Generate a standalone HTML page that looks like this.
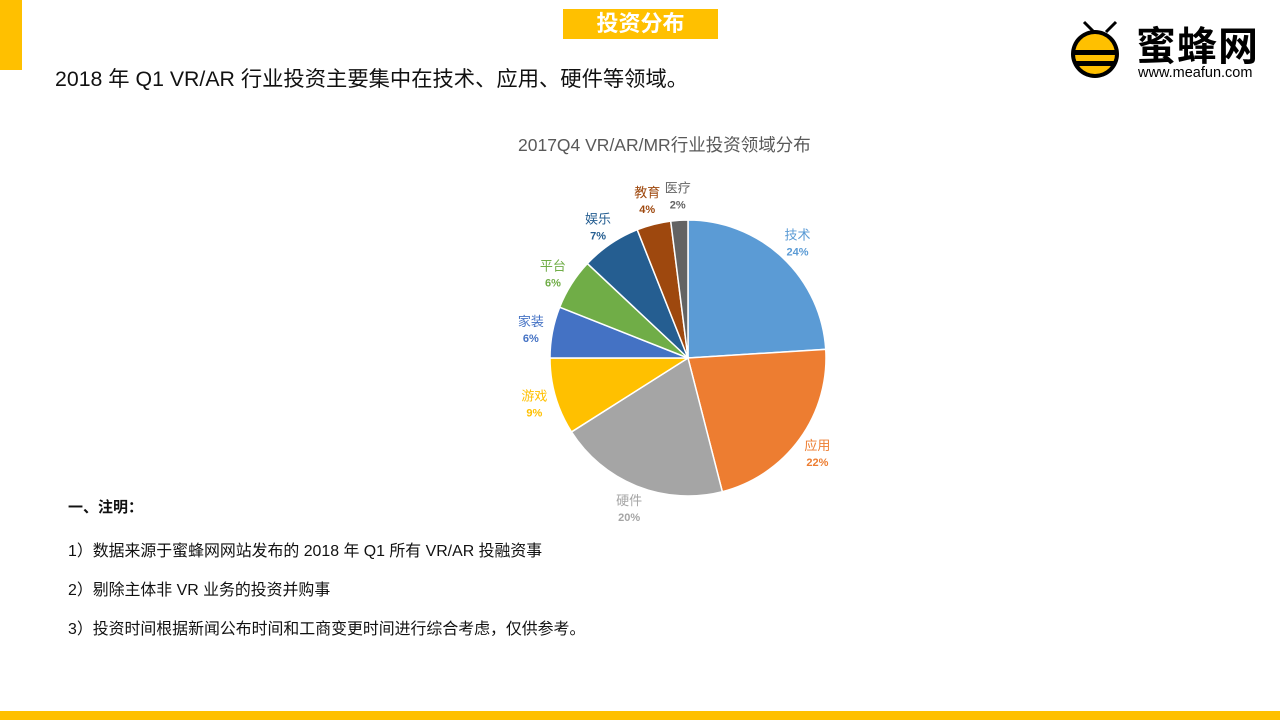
<!DOCTYPE html>
<html><head><meta charset="utf-8"><style>
body{margin:0;width:1280px;height:720px;background:#fff;position:relative;overflow:hidden;font-family:"Liberation Sans","Noto Sans CJK SC",sans-serif;}
.abs{position:absolute;}
</style></head><body>
<div class="abs" style="left:0;top:0;width:22px;height:70px;background:#FFC000"></div>
<div class="abs" style="left:563px;top:9px;width:155px;height:30px;background:#FFC000;color:#fff;font-weight:bold;font-size:22px;line-height:30px;text-align:center">投资分布</div>
<div class="abs" style="left:55px;top:62px;font-size:21.3px;color:#111">2018 年 Q1 VR/AR 行业投资主要集中在技术、应用、硬件等领域。</div>
<div class="abs" style="left:1070px;top:18px;width:200px;height:64px">
<svg width="60" height="64" style="position:absolute;left:0;top:0">
<path d="M14 4 L24 14 M46 4 L36 14" stroke="#000" stroke-width="3"/>
<ellipse cx="25" cy="36" rx="24" ry="24" fill="#000"/>
<ellipse cx="25" cy="36" rx="20" ry="20" fill="#FFC000"/>
<rect x="4" y="32" width="42" height="5" fill="#000"/><rect x="6" y="43" width="38" height="5" fill="#000"/>
</svg>
<div class="abs" style="left:66px;top:-4px;font-size:40px;font-weight:bold;color:#000;letter-spacing:1px">蜜蜂网</div>
<div class="abs" style="left:68px;top:47px;font-size:14.5px;color:#000">www.meafun.com</div>
</div>
<div class="abs" style="left:518px;top:132px;font-size:17.5px;color:#595959">2017Q4 VR/AR/MR行业投资领域分布</div>
<svg id="pie" class="abs" style="left:0;top:0" width="1280" height="720"></svg>
<div class="abs" style="left:68px;top:496px;font-size:15px;font-weight:bold;color:#111">一、注明：</div>
<div class="abs" style="left:68px;top:538px;font-size:15.9px;color:#111">1）数据来源于蜜蜂网网站发布的 2018 年 Q1 所有 VR/AR 投融资事</div>
<div class="abs" style="left:68px;top:577px;font-size:15.9px;color:#111">2）剔除主体非 VR 业务的投资并购事</div>
<div class="abs" style="left:68px;top:616px;font-size:15.9px;color:#111">3）投资时间根据新闻公布时间和工商变更时间进行综合考虑，仅供参考。</div>
<div class="abs" style="left:0;top:711px;width:1280px;height:9px;background:#FFC000"></div>
<script>
const categories=["技术","应用","硬件","游戏","家装","平台","娱乐","教育","医疗"];
const values=[24,22,20,9,6,6,7,4,2];
const colors=["#5B9BD5","#ED7D31","#A5A5A5","#FFC000","#4472C4","#70AD47","#255E91","#9E480E","#636363"];
const labelColors=["#5B9BD5","#ED7D31","#A5A5A5","#FFC000","#4472C4","#70AD47","#255E91","#9E480E","#636363"];
const cx=688,cy=358,r=138,ns="http://www.w3.org/2000/svg";
const svg=document.getElementById('pie');
const total=values.reduce((a,b)=>a+b,0);
let a0=0;
values.forEach((v,i)=>{
  const a1=a0+v/total*2*Math.PI;
  const x0=cx+r*Math.sin(a0),y0=cy-r*Math.cos(a0),x1=cx+r*Math.sin(a1),y1=cy-r*Math.cos(a1);
  const p=document.createElementNS(ns,'path');
  p.setAttribute('d',`M${cx},${cy}L${x0},${y0}A${r},${r} 0 ${a1-a0>Math.PI?1:0} 1 ${x1},${y1}Z`);
  p.setAttribute('fill',colors[i]);p.setAttribute('stroke','#fff');p.setAttribute('stroke-width','1.5');
  
  
  svg.appendChild(p);
  const am=(a0+a1)/2,lr=r+(v<5?26:22);
  const lx=cx+lr*Math.sin(am),ly=cy-lr*Math.cos(am);
  const t=document.createElementNS(ns,'text');
  t.setAttribute('x',lx);t.setAttribute('y',ly-2);t.setAttribute('text-anchor','middle');
  t.setAttribute('font-size','13');t.setAttribute('fill',labelColors[i]);
  
  
  t.textContent=categories[i];svg.appendChild(t);
  const t2=document.createElementNS(ns,'text');
  t2.setAttribute('x',lx);t2.setAttribute('y',ly+14);t2.setAttribute('text-anchor','middle');
  t2.setAttribute('font-size','11');t2.setAttribute('font-weight','bold');t2.setAttribute('fill',labelColors[i]);
  
  
  t2.textContent=v+'%';svg.appendChild(t2);
  a0=a1;
});
</script>
</body></html>
